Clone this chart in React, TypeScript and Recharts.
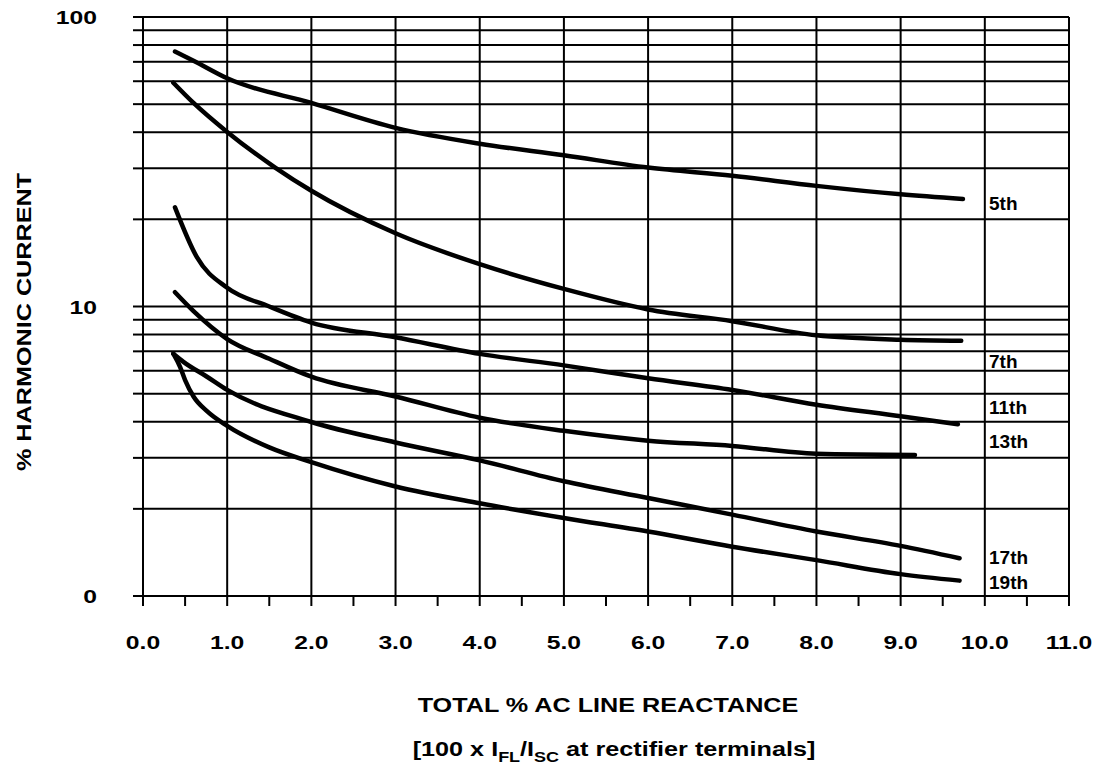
import React from 'react';
import { LineChart, Line, XAxis, YAxis, CartesianGrid, ReferenceDot } from 'recharts';

// axis ticks
const xTicks = [0, 0.5, 1, 1.5, 2, 2.5, 3, 3.5, 4, 4.5, 5, 5.5, 6, 6.5, 7, 7.5, 8, 8.5, 9, 9.5, 10, 10.5, 11];
const xGrid = [0, 1, 2, 3, 4, 5, 6, 7, 8, 9, 10, 11];
const yTicks = [1, 2, 3, 4, 5, 6, 7, 8, 9, 10, 20, 30, 40, 50, 60, 70, 80, 90, 100];
const yTickLabels: Record<number, string> = { 1: '0', 10: '10', 100: '100' };

// harmonic curves (x = % reactance, y = % harmonic current)
const h5x = [0.38, 0.6, 1.0, 2.0, 3.0, 4.0, 5.0, 6.0, 7.0, 8.0, 9.0, 9.74];
const h5y = [76, 70.6, 61.4, 50.5, 41.4, 36.5, 33.3, 30.2, 28.3, 26.1, 24.4, 23.5];

const h7x = [0.36, 0.6, 1.0, 1.57, 2.0, 3.0, 4.0, 5.0, 6.0, 7.0, 8.0, 9.0, 9.72];
const h7y = [59.3, 50.5, 40.1, 30.2, 25.1, 17.9, 14.0, 11.5, 9.77, 8.9, 7.95, 7.68, 7.62];

const h11x = [0.38, 0.64, 1.0, 1.5, 2.0, 3.0, 4.0, 5.0, 6.0, 7.0, 8.0, 9.0, 9.68];
const h11y = [22.0, 14.8, 11.6, 10.0, 8.8, 7.83, 6.86, 6.26, 5.65, 5.15, 4.58, 4.18, 3.92];

const h13x = [0.38, 0.6, 1.0, 1.5, 2.0, 3.0, 4.0, 5.0, 6.0, 7.0, 8.0, 9.17];
const h13y = [11.2, 9.64, 7.72, 6.6, 5.72, 4.89, 4.13, 3.72, 3.44, 3.3, 3.1, 3.07];

const h17x = [0.36, 0.48, 0.76, 1.0, 2.0, 3.0, 4.0, 5.0, 6.0, 7.0, 8.0, 9.0, 9.7];
const h17y = [6.87, 6.44, 5.72, 5.15, 3.99, 3.39, 2.94, 2.49, 2.18, 1.91, 1.67, 1.49, 1.35];

const h19x = [0.36, 0.44, 0.5, 0.6, 0.76, 1.0, 1.5, 2.0, 3.0, 4.0, 5.0, 6.0, 7.0, 8.0, 9.0, 9.7];
const h19y = [6.87, 6.19, 5.57, 4.89, 4.35, 3.87, 3.26, 2.9, 2.39, 2.09, 1.86, 1.67, 1.48, 1.33, 1.19, 1.13];

// curve names and where their labels sit
const curveNames = ['5th', '7th', '11th', '13th', '17th', '19th'];
const labelX = 10.05;
const labelY = [22.8, 6.48, 4.51, 3.43, 1.365, 1.114];

const toPoints = (xs: number[], ys: number[]) => xs.map((x, i) => ({ x, y: ys[i] }));

const series = [
  toPoints(h5x, h5y),
  toPoints(h7x, h7y),
  toPoints(h11x, h11y),
  toPoints(h13x, h13y),
  toPoints(h17x, h17y),
  toPoints(h19x, h19y),
];

const FONT = '"Liberation Sans", Arial, Helvetica, sans-serif';

const XTick = (props: any) => {
  const { x, y, payload } = props;
  const v = payload.value as number;
  if (!Number.isInteger(v)) return <g />;
  return (
    <text
      transform={`translate(${x},${y}) scale(1.3,1)`}
      textAnchor="middle"
      fontFamily={FONT}
      fontSize={19}
      fontWeight="bold"
      fill="#000"
    >
      {v.toFixed(1)}
    </text>
  );
};

const YTick = (props: any) => {
  const { x, y, payload } = props;
  const lab = yTickLabels[payload.value as number];
  if (!lab) return <g />;
  return (
    <text
      transform={`translate(${x},${y + 7}) scale(1.3,1)`}
      textAnchor="end"
      fontFamily={FONT}
      fontSize={19}
      fontWeight="bold"
      fill="#000"
    >
      {lab}
    </text>
  );
};

export default function App() {
  return (
    <div style={{ position: 'absolute', left: 0, top: 0, width: 1093, height: 765, background: '#fff' }}>
      <LineChart width={1093} height={765} margin={{ top: 17, right: 24, bottom: 0, left: 0 }}>
        <CartesianGrid stroke="#000" strokeWidth={2} verticalValues={xGrid} />
        <XAxis
          type="number"
          dataKey="x"
          domain={[0, 11]}
          ticks={xTicks}
          interval={0}
          height={169}
          tickSize={10}
          tickMargin={43}
          tick={<XTick />}
          axisLine={{ stroke: '#000', strokeWidth: 2 }}
          tickLine={{ stroke: '#000', strokeWidth: 2 }}
        />
        <YAxis
          type="number"
          dataKey="y"
          scale="log"
          domain={[1, 100]}
          allowDataOverflow
          ticks={yTicks}
          interval={0}
          width={143}
          tickSize={10}
          tickMargin={36}
          tick={<YTick />}
          axisLine={{ stroke: '#000', strokeWidth: 2 }}
          tickLine={{ stroke: '#000', strokeWidth: 2 }}
        />
        {series.map((d, i) => (
          <Line
            key={curveNames[i]}
            data={d}
            dataKey="y"
            type="monotone"
            stroke="#000"
            strokeWidth={4.5}
            strokeLinecap="round"
            dot={false}
            activeDot={false}
            isAnimationActive={false}
          />
        ))}
        {curveNames.map((name, i) => (
          <ReferenceDot
            key={'lab' + name}
            x={labelX}
            y={labelY[i]}
            r={0}
            fill="none"
            stroke="none"
            label={{
              content: (p: any) => (
                <text
                  x={p.viewBox.x}
                  y={p.viewBox.y + 7}
                  textAnchor="start"
                  fontFamily={FONT}
                  fontSize={19}
                  fontWeight="bold"
                  fill="#000"
                >
                  {name}
                </text>
              ),
            }}
          />
        ))}
      </LineChart>
      <svg width={1093} height={765} style={{ position: 'absolute', left: 0, top: 0, pointerEvents: 'none' }}>
        <text
          transform="translate(31,322) rotate(-90) scale(1.2,1)"
          textAnchor="middle"
          fontFamily={FONT}
          fontSize={21}
          fontWeight="bold"
          fill="#000"
        >
          % HARMONIC CURRENT
        </text>
        <text
          transform="translate(608,712) scale(1.2,1)"
          textAnchor="middle"
          fontFamily={FONT}
          fontSize={21}
          fontWeight="bold"
          fill="#000"
        >
          TOTAL % AC LINE REACTANCE
        </text>
        <text
          transform="translate(614,756) scale(1.2,1)"
          textAnchor="middle"
          fontFamily={FONT}
          fontSize={21}
          fontWeight="bold"
          fill="#000"
        >
          [100 x I
          <tspan fontSize={15} dy={6}>FL</tspan>
          <tspan dy={-6}>/I</tspan>
          <tspan fontSize={15} dy={6}>SC</tspan>
          <tspan dy={-6}> at rectifier terminals]</tspan>
        </text>
      </svg>
    </div>
  );
}
